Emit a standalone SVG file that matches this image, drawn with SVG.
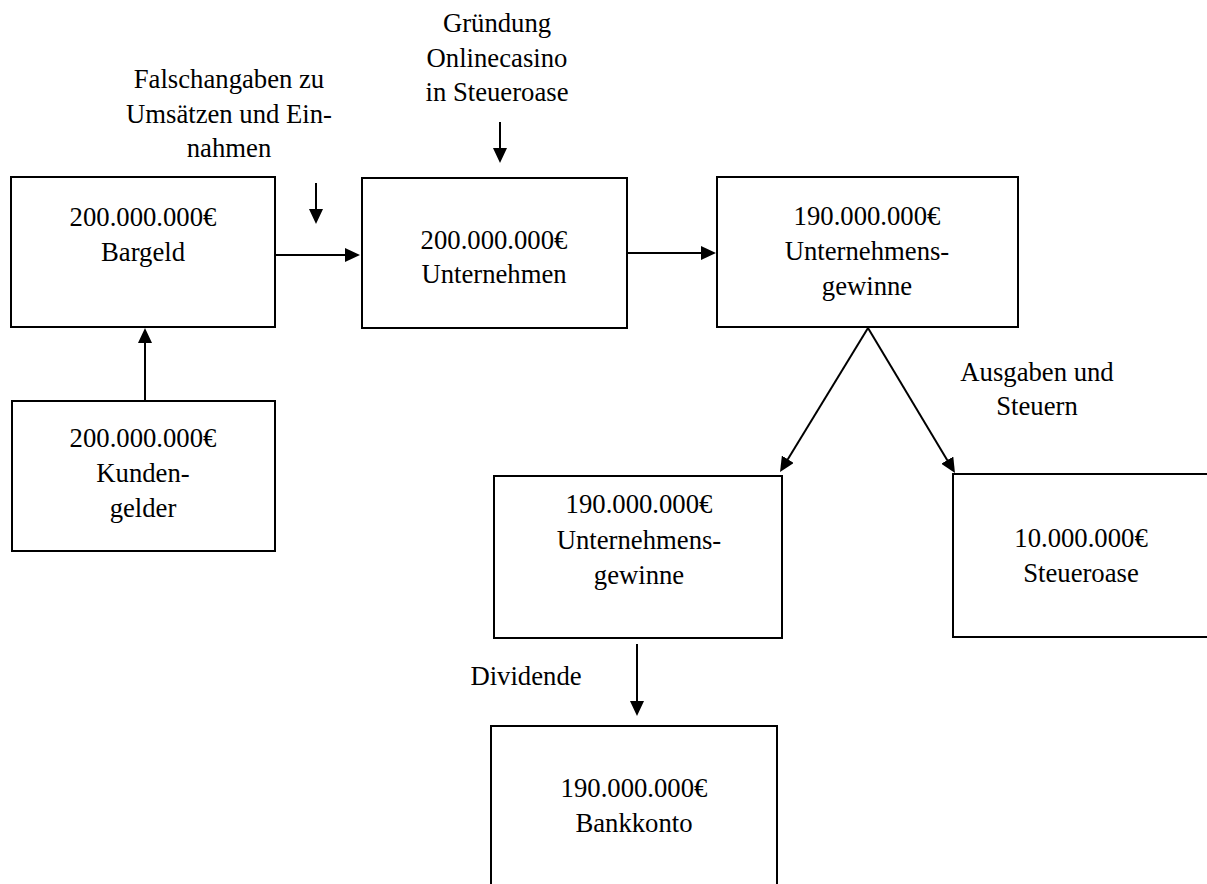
<svg xmlns="http://www.w3.org/2000/svg" width="1207" height="884" viewBox="0 0 1207 884">
<style>
.box{fill:#fff;stroke:#000;stroke-width:2}
.t{font-family:"Liberation Serif","Times New Roman",serif;font-size:26.7px;fill:#000;text-anchor:middle}
.c{stroke:#000;stroke-width:2;fill:none;marker-end:url(#ah)}
</style>
<defs>
<marker id="ah" viewBox="0 0 15 14" refX="3" refY="7" markerWidth="15" markerHeight="14" markerUnits="userSpaceOnUse" orient="auto">
<path d="M0,0 L15,7 L0,14 z" fill="#000"/>
</marker>
</defs>
<rect width="1207" height="884" fill="#fff"/>
<g id="label-falsch">
<text class="t" x="229" y="88">Falschangaben zu</text>
<text class="t" x="229" y="123">Umsätzen und Ein-</text>
<text class="t" x="229" y="157">nahmen</text>
</g>
<g id="label-gruendung">
<text class="t" x="497" y="32">Gründung</text>
<text class="t" x="497" y="67">Onlinecasino</text>
<text class="t" x="497" y="101">in Steueroase</text>
</g>
<g id="label-ausgaben">
<text class="t" x="1037" y="381">Ausgaben und</text>
<text class="t" x="1037" y="415">Steuern</text>
</g>
<g id="label-dividende">
<text class="t" x="526" y="685">Dividende</text>
</g>
<g id="bargeld">
<rect class="box" x="11" y="177" width="264" height="150"/>
<text class="t" x="143" y="226">200.000.000€</text>
<text class="t" x="143" y="261">Bargeld</text>
</g>
<g id="unternehmen">
<rect class="box" x="362" y="178" width="265" height="150"/>
<text class="t" x="494" y="249">200.000.000€</text>
<text class="t" x="494" y="283">Unternehmen</text>
</g>
<g id="gewinne1">
<rect class="box" x="717" y="177" width="301" height="150"/>
<text class="t" x="867" y="225">190.000.000€</text>
<text class="t" x="867" y="260">Unternehmens-</text>
<text class="t" x="867" y="295">gewinne</text>
</g>
<g id="kundengelder">
<rect class="box" x="12" y="401" width="263" height="150"/>
<text class="t" x="143" y="447">200.000.000€</text>
<text class="t" x="143" y="482">Kunden-</text>
<text class="t" x="143" y="517">gelder</text>
</g>
<g id="gewinne2">
<rect class="box" x="494" y="476" width="288" height="162"/>
<text class="t" x="639" y="513">190.000.000€</text>
<text class="t" x="639" y="549">Unternehmens-</text>
<text class="t" x="639" y="584">gewinne</text>
</g>
<g id="steueroase">
<rect class="box" x="953" y="474" width="260" height="163"/>
<text class="t" x="1081" y="547">10.000.000€</text>
<text class="t" x="1081" y="582">Steueroase</text>
</g>
<g id="bankkonto">
<rect class="box" x="491" y="726" width="286" height="170"/>
<text class="t" x="634" y="797">190.000.000€</text>
<text class="t" x="634" y="832">Bankkonto</text>
</g>
<g id="connectors">
<line class="c" x1="276" y1="255" x2="348" y2="255"/>
<line class="c" x1="627" y1="253" x2="704" y2="253"/>
<line class="c" x1="145" y1="401" x2="145" y2="340"/>
<line class="c" x1="316" y1="183" x2="316" y2="212"/>
<line class="c" x1="500" y1="122" x2="500" y2="151"/>
<line class="c" x1="868" y1="328" x2="786.3" y2="461.8"/>
<line class="c" x1="868" y1="328" x2="948.8" y2="462.7"/>
<line class="c" x1="637" y1="644" x2="637" y2="704"/>
</g>
</svg>
